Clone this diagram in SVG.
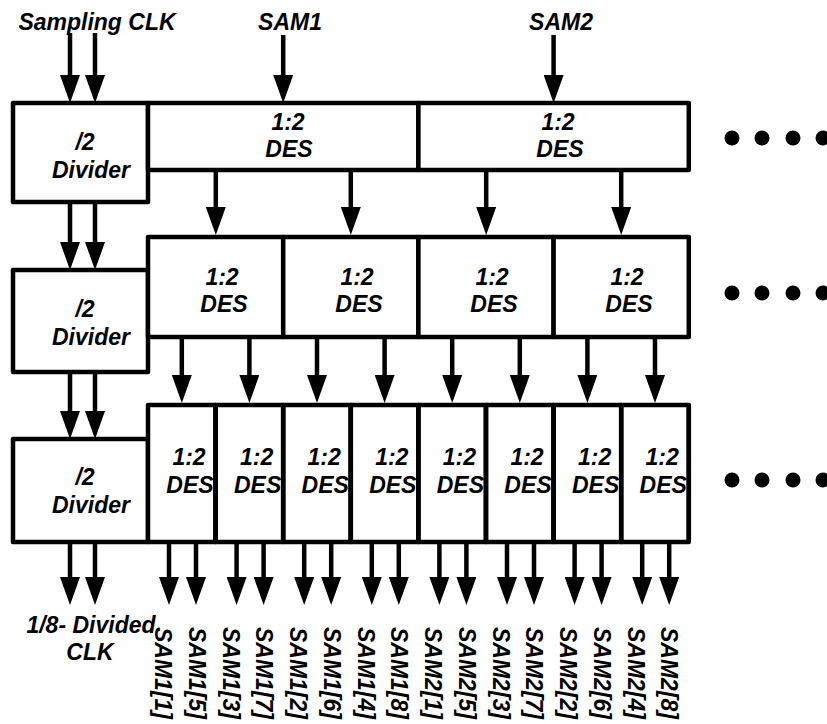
<svg xmlns="http://www.w3.org/2000/svg" width="827" height="724" viewBox="0 0 827 724">
<style>
text{font-family:"Liberation Sans",Arial,sans-serif;font-weight:bold;font-style:italic;font-size:23px;fill:#000}
.c{text-anchor:middle}
.box{fill:#fff;stroke:#000;stroke-width:4.5;stroke-linejoin:round}
.ln{fill:none;stroke:#000;stroke-width:4.5}
.arr{fill:none;stroke:#000;stroke-width:4.5;marker-end:url(#ah)}
.dot{fill:#000}
</style>
<defs>
<marker id="ah" markerUnits="userSpaceOnUse" markerWidth="28" markerHeight="20" refX="14" refY="10" orient="auto"><path d="M0,0 L28,10 L0,20 z" fill="#000"/></marker>
</defs>
<rect width="827" height="724" fill="#fff"/>

<g id="connectors">
<line class="arr" x1="70" y1="33" x2="70" y2="89"/>
<line class="arr" x1="95" y1="33" x2="95" y2="89"/>
<line class="arr" x1="283.2" y1="35" x2="283.2" y2="89"/>
<line class="arr" x1="553.6" y1="35" x2="553.6" y2="89"/>
<line class="arr" x1="70" y1="202" x2="70" y2="256"/>
<line class="arr" x1="95" y1="202" x2="95" y2="256"/>
<line class="arr" x1="70" y1="372" x2="70" y2="425"/>
<line class="arr" x1="95" y1="372" x2="95" y2="425"/>
<line class="arr" x1="70" y1="542" x2="70" y2="591"/>
<line class="arr" x1="95" y1="542" x2="95" y2="591"/>
<line class="arr" x1="215.8" y1="170" x2="215.8" y2="221"/>
<line class="arr" x1="350.8" y1="170" x2="350.8" y2="221"/>
<line class="arr" x1="486.2" y1="170" x2="486.2" y2="221"/>
<line class="arr" x1="621.2" y1="170" x2="621.2" y2="221"/>
<line class="arr" x1="181.8" y1="337" x2="181.8" y2="389"/>
<line class="arr" x1="249.4" y1="337" x2="249.4" y2="389"/>
<line class="arr" x1="317" y1="337" x2="317" y2="389"/>
<line class="arr" x1="384.6" y1="337" x2="384.6" y2="389"/>
<line class="arr" x1="452.2" y1="337" x2="452.2" y2="389"/>
<line class="arr" x1="519.8" y1="337" x2="519.8" y2="389"/>
<line class="arr" x1="587.4" y1="337" x2="587.4" y2="389"/>
<line class="arr" x1="655" y1="337" x2="655" y2="389"/>
<line class="arr" x1="169" y1="542" x2="169" y2="591"/>
<line class="arr" x1="196" y1="542" x2="196" y2="591"/>
<line class="arr" x1="236.6" y1="542" x2="236.6" y2="591"/>
<line class="arr" x1="263.6" y1="542" x2="263.6" y2="591"/>
<line class="arr" x1="304.2" y1="542" x2="304.2" y2="591"/>
<line class="arr" x1="331.2" y1="542" x2="331.2" y2="591"/>
<line class="arr" x1="371.8" y1="542" x2="371.8" y2="591"/>
<line class="arr" x1="398.8" y1="542" x2="398.8" y2="591"/>
<line class="arr" x1="439.4" y1="542" x2="439.4" y2="591"/>
<line class="arr" x1="466.4" y1="542" x2="466.4" y2="591"/>
<line class="arr" x1="507" y1="542" x2="507" y2="591"/>
<line class="arr" x1="534" y1="542" x2="534" y2="591"/>
<line class="arr" x1="574.6" y1="542" x2="574.6" y2="591"/>
<line class="arr" x1="601.6" y1="542" x2="601.6" y2="591"/>
<line class="arr" x1="642.2" y1="542" x2="642.2" y2="591"/>
<line class="arr" x1="669.2" y1="542" x2="669.2" y2="591"/>
</g>

<g id="div1"><rect class="box" x="13" y="103" width="135" height="99"/><text class="c" x="85" y="150">/2</text><text class="c" x="91" y="178">Divider</text></g>
<g id="div2"><rect class="box" x="13" y="270" width="135" height="102"/><text class="c" x="85" y="317">/2</text><text class="c" x="91" y="345">Divider</text></g>
<g id="div3"><rect class="box" x="13" y="439" width="135" height="103"/><text class="c" x="85" y="485">/2</text><text class="c" x="91" y="513">Divider</text></g>

<g id="des1_1"><rect class="box" x="148" y="103" width="270.4" height="67"/><text class="c" x="288" y="130">1:2</text><text class="c" x="289" y="157">DES</text></g>
<g id="des1_2"><rect class="box" x="418.4" y="103" width="270.4" height="67"/><text class="c" x="558" y="130">1:2</text><text class="c" x="560" y="157">DES</text></g>

<g id="des2_1"><rect class="box" x="148" y="237" width="135.2" height="100"/><text class="c" x="222" y="285">1:2</text><text class="c" x="224" y="312">DES</text></g>
<g id="des2_2"><rect class="box" x="283.2" y="237" width="135.2" height="100"/><text class="c" x="357" y="285">1:2</text><text class="c" x="359" y="312">DES</text></g>
<g id="des2_3"><rect class="box" x="418.4" y="237" width="135.2" height="100"/><text class="c" x="492" y="285">1:2</text><text class="c" x="494" y="312">DES</text></g>
<g id="des2_4"><rect class="box" x="553.6" y="237" width="135.2" height="100"/><text class="c" x="627" y="285">1:2</text><text class="c" x="629" y="312">DES</text></g>

<g id="des3">
<g id="des3_1"><rect class="box" x="148" y="405" width="67.6" height="137"/><text class="c" x="189" y="465">1:2</text><text class="c" x="190" y="493">DES</text></g>
<g id="des3_2"><rect class="box" x="215.6" y="405" width="67.6" height="137"/><text class="c" x="256.6" y="465">1:2</text><text class="c" x="257.6" y="493">DES</text></g>
<g id="des3_3"><rect class="box" x="283.2" y="405" width="67.6" height="137"/><text class="c" x="324.2" y="465">1:2</text><text class="c" x="325.2" y="493">DES</text></g>
<g id="des3_4"><rect class="box" x="350.8" y="405" width="67.6" height="137"/><text class="c" x="391.8" y="465">1:2</text><text class="c" x="392.8" y="493">DES</text></g>
<g id="des3_5"><rect class="box" x="418.4" y="405" width="67.6" height="137"/><text class="c" x="459.4" y="465">1:2</text><text class="c" x="460.4" y="493">DES</text></g>
<g id="des3_6"><rect class="box" x="486" y="405" width="67.6" height="137"/><text class="c" x="527" y="465">1:2</text><text class="c" x="528" y="493">DES</text></g>
<g id="des3_7"><rect class="box" x="553.6" y="405" width="67.6" height="137"/><text class="c" x="594.6" y="465">1:2</text><text class="c" x="595.6" y="493">DES</text></g>
<g id="des3_8"><rect class="box" x="621.2" y="405" width="67.6" height="137"/><text class="c" x="662.2" y="465">1:2</text><text class="c" x="663.2" y="493">DES</text></g>
<path class="ln" d="M215.6,405V542M283.2,405V542M350.8,405V542M418.4,405V542M486,405V542M553.6,405V542M621.2,405V542M688.8,405V542"/>
</g>

<g id="top-labels">
<text class="c" x="97" y="30">Sampling CLK</text>
<text class="c" x="290" y="30">SAM1</text>
<text class="c" x="561" y="30">SAM2</text>
</g>

<g id="clk-out-label">
<text class="c" x="91" y="633">1/8- Divided</text>
<text class="c" x="90" y="660">CLK</text>
</g>

<g id="out-labels">
<text transform="translate(155,627) rotate(90)">SAM1[1]</text>
<text transform="translate(188.75,627) rotate(90)">SAM1[5]</text>
<text transform="translate(222.5,627) rotate(90)">SAM1[3]</text>
<text transform="translate(256.25,627) rotate(90)">SAM1[7]</text>
<text transform="translate(290,627) rotate(90)">SAM1[2]</text>
<text transform="translate(323.75,627) rotate(90)">SAM1[6]</text>
<text transform="translate(357.5,627) rotate(90)">SAM1[4]</text>
<text transform="translate(391.25,627) rotate(90)">SAM1[8]</text>
<text transform="translate(425,627) rotate(90)">SAM2[1]</text>
<text transform="translate(458.75,627) rotate(90)">SAM2[5]</text>
<text transform="translate(492.5,627) rotate(90)">SAM2[3]</text>
<text transform="translate(526.25,627) rotate(90)">SAM2[7]</text>
<text transform="translate(560,627) rotate(90)">SAM2[2]</text>
<text transform="translate(593.75,627) rotate(90)">SAM2[6]</text>
<text transform="translate(627.5,627) rotate(90)">SAM2[4]</text>
<text transform="translate(661.25,627) rotate(90)">SAM2[8]</text>
</g>

<g id="dots">
<circle class="dot" cx="732" cy="138" r="7.5"/><circle class="dot" cx="762" cy="138" r="7.5"/><circle class="dot" cx="793" cy="138" r="7.5"/><circle class="dot" cx="823" cy="138" r="7.5"/>
<circle class="dot" cx="732" cy="293" r="7.5"/><circle class="dot" cx="762" cy="293" r="7.5"/><circle class="dot" cx="793" cy="293" r="7.5"/><circle class="dot" cx="823" cy="293" r="7.5"/>
<circle class="dot" cx="732" cy="480" r="7.5"/><circle class="dot" cx="762" cy="480" r="7.5"/><circle class="dot" cx="793" cy="480" r="7.5"/><circle class="dot" cx="823" cy="480" r="7.5"/>
</g>
</svg>
